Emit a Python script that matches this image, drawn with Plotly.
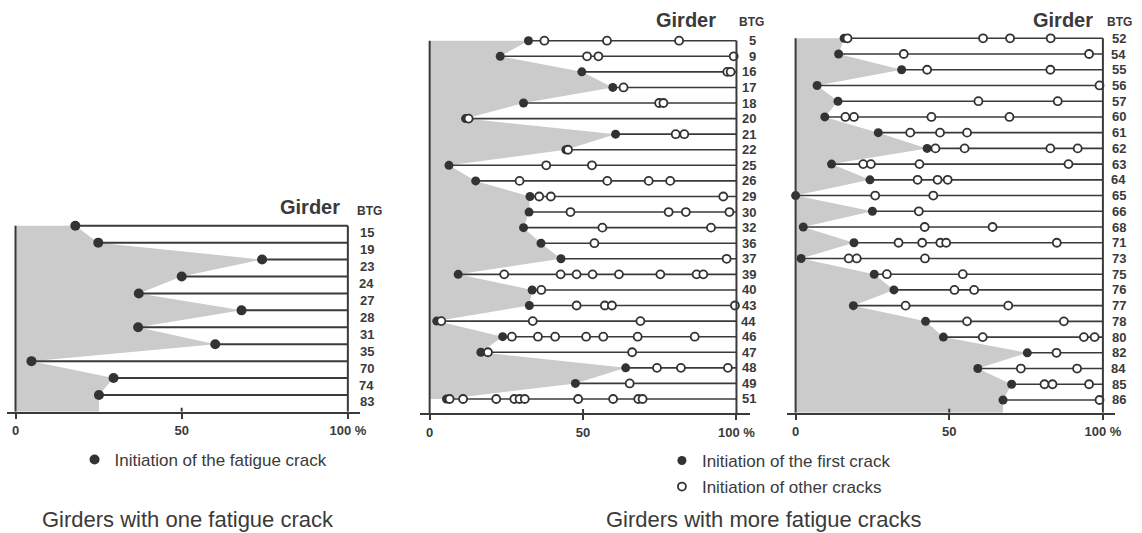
import plotly.graph_objects as go

# ---------------- data (percent of fatigue life) ----------------
p1_girders = ["15", "19", "23", "24", "27", "28", "31", "35", "70", "74", "83"]
p1_first = [18.0, 24.9, 74.2, 50.0, 37.1, 68.0, 36.9, 60.1, 4.8, 29.5, 25.1]

p2_girders = ["5", "9", "16", "17", "18", "20", "21", "22", "25", "26", "29", "30",
              "32", "36", "37", "39", "40", "43", "44", "46", "47", "48", "49", "51"]
p2_first = [32.2, 23.0, 49.6, 59.7, 30.6, 11.7, 60.6, 44.4, 6.3, 15.0, 32.7, 32.4,
            30.6, 36.3, 42.8, 9.3, 33.4, 32.5, 2.3, 23.8, 16.7, 63.9, 47.5, 5.5]
p2_other = [
    [37.4, 57.8, 81.3],
    [51.3, 55.0, 99.1],
    [97.0, 98.1],
    [63.2],
    [74.8, 76.2],
    [12.7],
    [80.2, 83.0],
    [45.1],
    [38.0, 52.9],
    [29.3, 57.9, 71.4, 78.4],
    [35.7, 39.5, 95.7],
    [45.9, 77.9, 83.5, 97.7],
    [56.3, 91.7],
    [53.7],
    [96.8],
    [24.3, 42.7, 47.9, 53.1, 61.7, 75.2, 87.0, 89.2],
    [36.4],
    [47.9, 57.1, 59.4, 99.5],
    [3.8, 33.6, 68.7],
    [26.8, 35.3, 40.9, 51.0, 56.6, 67.8, 86.4],
    [19.0, 66.0],
    [74.1, 81.9, 97.2],
    [65.2],
    [6.5, 10.9, 21.7, 27.6, 29.3, 31.0, 48.4, 59.8, 68.0, 69.4],
]

p3_girders = ["52", "54", "55", "56", "57", "60", "61", "62", "63", "64", "65", "66",
              "68", "71", "73", "75", "76", "77", "78", "80", "82", "84", "85", "86"]
p3_first = [15.8, 14.0, 34.5, 7.0, 13.8, 9.5, 26.9, 42.8, 11.7, 24.2, 0.0, 25.0,
            2.5, 19.0, 1.8, 25.6, 32.0, 18.8, 42.3, 48.1, 75.4, 59.3, 70.3, 67.5]
p3_other = [
    [16.9, 61.0, 69.8, 83.0],
    [35.2, 95.5],
    [42.8, 82.9],
    [98.9],
    [59.5, 85.3],
    [16.2, 19.0, 44.2, 69.6],
    [37.3, 47.0, 55.8],
    [45.5, 55.0, 82.9, 91.8],
    [22.0, 24.5, 40.3, 88.8],
    [39.7, 46.2, 49.5],
    [25.9, 44.8],
    [40.1],
    [42.0, 64.1],
    [33.5, 41.2, 47.1, 49.0, 85.0],
    [17.3, 19.9, 42.1],
    [29.7, 54.4],
    [51.7, 58.1],
    [35.8, 69.2],
    [55.8, 87.3],
    [60.9, 93.8, 97.3],
    [84.9],
    [73.3, 91.6],
    [81.0, 83.6, 95.5],
    [98.9],
]

tick_vals = [0, 50, 100]
tick_text = ["0", "50", "100 %"]

legend_one = "Initiation of the fatigue crack"
legend_first = "Initiation of the first crack"
legend_other = "Initiation of other cracks"
caption_one = "Girders with one fatigue crack"
caption_more = "Girders with more fatigue cracks"

# ---------------- layout / style ----------------
W, H = 1142, 533
INK = "#3a3a3a"
FILL = "#cbcbcb"
FONT = "Liberation Sans, Arial, Helvetica, sans-serif"

panels = [
    dict(names=p1_girders, first=p1_first, other=None,
         x0=15.6, x100=350.0, xl=7, xr=362, top=225.7, step=16.93, axis=411.7,
         fill_to_axis=True, label_right=378, label_dy=0.41, msize=10, lw=2.0,
         girder=(280, 207), btg=(357, 211)),
    dict(names=p2_girders, first=p2_first, other=p2_other,
         x0=432.3, x100=741.0, xl=423, xr=755, top=40.7, step=15.578, axis=413.0,
         fill_to_axis=False, label_right=763, label_dy=0.0, msize=9, lw=1.6,
         girder=(658, 19.5), btg=(742, 22)),
    dict(names=p3_girders, first=p3_first, other=p3_other,
         x0=800.5, x100=1109.7, xl=792, xr=1122, top=38.3, step=15.726, axis=412.7,
         fill_to_axis=True, label_right=1135, label_dy=0.0, msize=9, lw=1.6,
         girder=(1037, 19.5), btg=(1112, 22)),
]


def px(x):
    return x / W


def py(y):
    return 1 - y / H


fig = go.Figure()
shapes = []
annotations = []
layout_axes = {}

for k, p in enumerate(panels, start=1):
    sx = "" if k == 1 else str(k)
    xref, yref = "x" + sx, "y" + sx
    n = len(p["names"])
    rows = list(range(n))
    kpx = (p["x100"] - p["x0"]) / 100.0
    axis_row = (p["axis"] - p["top"]) / p["step"]

    layout_axes["xaxis" + sx] = dict(
        domain=[px(p["xl"]), px(p["xr"])],
        range=[(p["xl"] - p["x0"]) / kpx, (p["xr"] - p["x0"]) / kpx],
        showgrid=False, zeroline=False, showline=True, linecolor=INK, linewidth=2,
        ticks="outside", ticklen=5, tickwidth=2, tickcolor=INK,
        tickvals=tick_vals, ticktext=tick_text, ticklabelstandoff=1,
        tickfont=dict(family=FONT, size=13, color=INK, weight="bold"),
        anchor=yref, fixedrange=True,
    )
    layout_axes["yaxis" + sx] = dict(
        domain=[py(p["axis"]), py(p["top"] - p["step"])],
        range=[axis_row, -1], visible=False, anchor=xref, fixedrange=True,
    )

    # shaded envelope of first-crack initiation
    first = p["first"]
    if p["fill_to_axis"]:
        fx = [0] + first + [first[-1], 0]
        fy = [0] + rows + [axis_row, axis_row]
    else:
        fx = [0] + first + [0]
        fy = [0] + rows + [rows[-1]]
    fig.add_trace(go.Scatter(x=fx, y=fy, mode="lines", fill="toself", fillcolor=FILL,
                             line=dict(width=0, color=FILL), hoverinfo="skip",
                             showlegend=False, xaxis=xref, yaxis=yref))

    # horizontal life lines from first crack to 100 %
    lx, ly = [], []
    for i, f in enumerate(first):
        lx += [f, 100, None]
        ly += [i, i, None]
    fig.add_trace(go.Scatter(x=lx, y=ly, mode="lines", line=dict(color=INK, width=p["lw"]),
                             hoverinfo="skip", showlegend=False, xaxis=xref, yaxis=yref))

    # first crack markers
    fig.add_trace(go.Scatter(
        x=first, y=rows, mode="markers",
        marker=dict(size=p["msize"], color="#333333", line=dict(width=0)),
        name=legend_one if k == 1 else legend_first,
        legend="legend" if k == 1 else "legend2",
        showlegend=(k <= 2), cliponaxis=False, xaxis=xref, yaxis=yref))

    # other crack markers
    if p["other"] is not None:
        ox, oy = [], []
        for i, vals in enumerate(p["other"]):
            ox += vals
            oy += [i] * len(vals)
        fig.add_trace(go.Scatter(
            x=ox, y=oy, mode="markers",
            marker=dict(size=8, color="white", line=dict(width=1.8, color="#333333")),
            name=legend_other, legend="legend3", showlegend=(k == 2),
            cliponaxis=False, xaxis=xref, yaxis=yref))

    # frame lines
    shapes.append(dict(type="line", xref=xref, yref=yref, x0=0, x1=0, y0=0, y1=axis_row,
                       line=dict(color=INK, width=2)))
    shapes.append(dict(type="line", xref=xref, yref=yref, x0=100, x1=100, y0=0, y1=axis_row,
                       line=dict(color=INK, width=2)))
    shapes.append(dict(type="line", xref=xref, yref=yref, x0=50, x1=50,
                       y0=axis_row - 4.0 / p["step"], y1=axis_row,
                       line=dict(color=INK, width=2)))

    # girder labels
    for i, name in enumerate(p["names"]):
        annotations.append(dict(text=name, xref="paper", yref=yref,
                                x=px(p["label_right"]), y=i + p["label_dy"],
                                xanchor="right", yanchor="middle", showarrow=False,
                                font=dict(family=FONT, size=13, color=INK, weight="bold")))
    gx, gy = p["girder"]
    annotations.append(dict(text="Girder", xref="paper", yref="paper", x=px(gx), y=py(gy),
                            xanchor="left", yanchor="middle", showarrow=False,
                            font=dict(family=FONT, size=20, color=INK, weight="bold")))
    bx, by = p["btg"]
    annotations.append(dict(text="BTG", xref="paper", yref="paper", x=px(bx), y=py(by),
                            xanchor="left", yanchor="middle", showarrow=False,
                            font=dict(family=FONT, size=12, color=INK, weight="bold")))

annotations.append(dict(text=caption_one, xref="paper", yref="paper", x=px(41), y=0,
                        xanchor="left", yanchor="bottom", showarrow=False, borderpad=0,
                        font=dict(family=FONT, size=22, color=INK)))
annotations.append(dict(text=caption_more, xref="paper", yref="paper", x=px(609), y=0,
                        xanchor="left", yanchor="bottom", showarrow=False, borderpad=0,
                        font=dict(family=FONT, size=22, color=INK)))

leg_common = dict(xanchor="left", yanchor="middle", bgcolor="rgba(0,0,0,0)", borderwidth=0,
                  font=dict(family=FONT, size=17, color=INK), itemclick=False,
                  itemdoubleclick=False)

fig.update_layout(
    width=W, height=H, margin=dict(l=0, r=0, t=0, b=0),
    paper_bgcolor="white", plot_bgcolor="white",
    showlegend=True,
    legend=dict(x=px(75), y=py(460), **leg_common),
    legend2=dict(x=px(666), y=py(461), **leg_common),
    legend3=dict(x=px(666), y=py(487), **leg_common),
    shapes=shapes, annotations=annotations,
    **layout_axes,
)

fig.write_html("out.html")
